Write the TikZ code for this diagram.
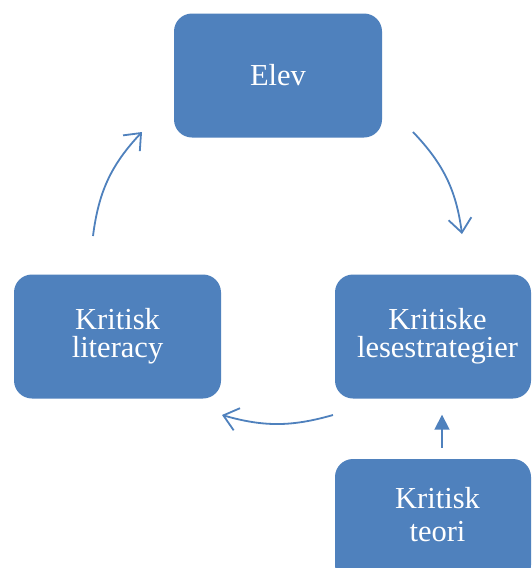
\documentclass[tikz,border=0pt]{standalone}
\usepackage{fontspec}
\setmainfont{Liberation Serif}
\usetikzlibrary{arrows.meta}
\definecolor{boxblue}{HTML}{4F81BD}
\begin{document}
\begin{tikzpicture}[x=1pt,y=-1pt,
  box/.style={draw=none, fill=boxblue, rounded corners=18pt, minimum width=#1, minimum height=124pt, inner sep=0pt},
  boxtext/.style={text=white, align=center, font=\fontsize{30.5}{28}\selectfont},
  conn/.style={draw=boxblue, line width=1.8pt, -{Straight Barb[length=14pt, width=23pt]}},
  feed/.style={draw=boxblue, line width=1.8pt, -{Triangle[length=15pt, width=15pt]}}]
\useasboundingbox (0,0) rectangle (532,568);
\clip (0,0) rectangle (532,568);
\fill[white] (0,0) rectangle (532,568);

\node[box=208pt, boxtext] (elev) at (278,75.5) {Elev};
\node[box=207pt, boxtext] (kl) at (117.5,336.5) {Kritisk\\literacy};
\node[box=196pt, label={[boxtext, xshift=4.5pt, yshift=0pt]center:Kritiske\\lesestrategier}] (ks) at (433,336.5) {};
\node[box=196pt, label={[boxtext, font=\fontsize{30.5}{33}\selectfont, xshift=4.5pt, yshift=6.5pt]center:Kritisk\\teori}] (kt) at (433,521) {};

\coordinate (a1s) at (413,132);
\coordinate (a1e) at (462,234);
\coordinate (a2s) at (333,415);
\coordinate (a2e) at (222,415);
\coordinate (a3s) at (93,236);
\coordinate (a3e) at (142,132);

\draw[conn] (a1s) to[bend left=18] (a1e);
\draw[conn] (a2s) to[bend left=16] (a2e);
\draw[conn] (a3s) to[bend left=18] (a3e);
\draw[feed] ([xshift=9pt, yshift=11pt]kt.north) -- ([xshift=9pt, yshift=-16pt]ks.south);
\end{tikzpicture}
\end{document}
